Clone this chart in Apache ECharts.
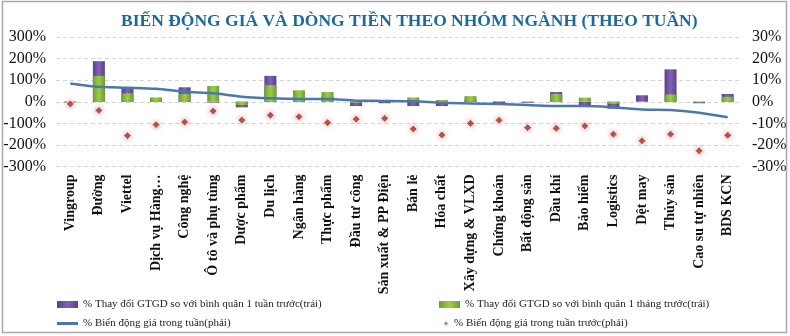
<!DOCTYPE html>
<html>
<head>
<meta charset="utf-8">
<script src="https://cdn.jsdelivr.net/npm/echarts@6/dist/echarts.min.js"></script>
<style>
  html, body { margin: 0; padding: 0; background: #fff; }
  #chart { width: 790px; height: 336px; }
</style>
</head>
<body>
<div id="chart"></div>
<script>
// Sector groups (weekly view)
var categories = ['Vingroup', 'Đường', 'Viettel', 'Dịch vụ Hàng…', 'Công nghệ', 'Ô tô và phụ tùng',
  'Dược phẩm', 'Du lịch', 'Ngân hàng', 'Thực phẩm', 'Đầu tư công', 'Sản xuất & PP Điện',
  'Bán lẻ', 'Hóa chất', 'Xây dựng & VLXD', 'Chứng khoán', 'Bất động sản', 'Dầu khí',
  'Bảo hiểm', 'Logistics', 'Dệt may', 'Thủy sản', 'Cao su tự nhiên', 'BDS KCN'];

// % change in trading value vs previous 1-week average (left axis)
var tradeVsWeek = [-3, 188, 67, 10, 67, -4, -26, 120, 30, 25, -20, -7,
  -20, -20, 10, -7, -5, 45, -15, -32, 30, 150, -7, 36];

// % change in trading value vs previous 1-month average (left axis)
var tradeVsMonth = [-2, 120, 39, 20, 36, 73, -15, 77, 53, 45, -5, 2,
  20, 8, 26, 3, -2, 36, 19, -10, 3, 34, -3, 23];

// % price change this week (right axis)
var priceWeek = [8.5, 6.9, 6.5, 6.0, 4.6, 3.9, 2.3, 1.6, 1.3, 1.3, 0.5, 0.4,
  0.2, -0.5, -0.8, -1.1, -1.5, -2.0, -2.0, -2.6, -3.6, -3.8, -5.1, -7.2];

// % price change previous week (right axis)
var pricePrevWeek = [-1, -4, -15.7, -10.6, -9.4, -4.3, -8.5, -6.2, -6.9, -9.7, -8.1, -7.7,
  -12.6, -15.4, -10, -8.6, -12, -12.3, -11.2, -15, -18.1, -15, -22.7, -15.5];

var leftTicks = { min: -300, max: 300, interval: 100 };
var rightTicks = { min: -30, max: 30, interval: 10 };

var names = [
  '% Thay đổi GTGD so với bình quân 1 tuần trước(trái)',
  '% Thay đổi GTGD so với bình quân 1 tháng trước(trái)',
  '% Biến động giá trong tuần(phải)',
  '% Biến động giá trong tuần trước(phải)'
];

var serif = '"Liberation Serif", "Times New Roman", serif';

function hGrad(edge, mid) {
  return new echarts.graphic.LinearGradient(0, 0, 1, 0, [
    { offset: 0, color: edge }, { offset: 0.5, color: mid }, { offset: 1, color: edge }
  ]);
}

var legendText = { fontFamily: serif, fontSize: 11, color: '#222' };

var chart = echarts.init(document.getElementById('chart'), null, { renderer: 'canvas' });
chart.setOption({
  animation: false,
  backgroundColor: '#fff',
  title: {
    text: 'BIẾN ĐỘNG GIÁ VÀ DÒNG TIỀN THEO NHÓM NGÀNH (THEO TUẦN)',
    left: 116, top: 7,
    textStyle: { fontFamily: serif, fontSize: 17.5, fontWeight: 'bold', color: '#1c6a9c' }
  },
  graphic: [{
    type: 'rect', silent: true, z: 100,
    shape: { x: 2.5, y: 1.5, width: 784, height: 331 },
    style: { fill: 'none', stroke: '#a8a8a8', lineWidth: 1.5 }
  }],
  legend: [
    { left: 52, top: 294, itemWidth: 21, itemHeight: 7, itemGap: 4, textStyle: legendText,
      data: [{ name: names[0], icon: 'rect' }] },
    { left: 434, top: 294, itemWidth: 21, itemHeight: 7, itemGap: 4, textStyle: legendText,
      data: [{ name: names[1], icon: 'rect' }] },
    { left: 52, top: 313, itemWidth: 21, itemHeight: 3, itemGap: 4, textStyle: legendText,
      data: [{ name: names[2], icon: 'rect' }] },
    { left: 437, top: 313, itemWidth: 6, itemHeight: 6, itemGap: 10, textStyle: legendText,
      data: [{ name: names[3], icon: 'diamond' }] }
  ],
  grid: { left: 56, right: 48, top: 37, bottom: 169.5, containLabel: false },
  xAxis: {
    type: 'category',
    data: categories,
    axisLine: { show: false, onZero: false },
    axisTick: { show: false },
    splitLine: { show: false },
    axisLabel: {
      interval: 0, rotate: 90, margin: 8,
      fontFamily: serif, fontSize: 14, fontWeight: 'bold', color: '#111'
    }
  },
  yAxis: [{
    type: 'value',
    min: leftTicks.min, max: leftTicks.max, interval: leftTicks.interval,
    axisLine: { show: false }, axisTick: { show: false },
    splitLine: { lineStyle: { color: '#d4d4d4', type: [4, 3], width: 1 } },
    axisLabel: { formatter: '{value}%', fontFamily: serif, fontSize: 16, color: '#111', margin: 10 }
  }, {
    type: 'value',
    min: rightTicks.min, max: rightTicks.max, interval: rightTicks.interval,
    axisLine: { show: false }, axisTick: { show: false },
    splitLine: { show: false },
    axisLabel: { formatter: '{value}%', fontFamily: serif, fontSize: 16, color: '#111', margin: 10 }
  }],
  series: [{
    name: names[0],
    type: 'bar',
    yAxisIndex: 0,
    data: tradeVsWeek,
    barWidth: 12,
    barGap: '-100%',
    itemStyle: { color: hGrad('#5e3f8e', '#8262b4') },
    z: 2
  }, {
    name: names[1],
    type: 'bar',
    yAxisIndex: 0,
    data: tradeVsMonth,
    barWidth: 12,
    barGap: '-100%',
    itemStyle: { color: hGrad('#6f9e2e', '#9ccc4e') },
    z: 3
  }, {
    name: names[2],
    type: 'line',
    yAxisIndex: 1,
    data: priceWeek,
    smooth: 0.3,
    showSymbol: false,
    symbol: 'none',
    lineStyle: { color: '#4a78ae', width: 2.5 },
    itemStyle: { color: '#4a78ae' },
    z: 5
  }, {
    name: names[3],
    type: 'scatter',
    yAxisIndex: 1,
    data: pricePrevWeek,
    symbol: 'diamond',
    symbolSize: 8,
    itemStyle: {
      color: '#a5302c',
      borderColor: '#fff', borderWidth: 1,
      shadowBlur: 5, shadowColor: 'rgba(190,90,90,0.55)'
    },
    z: 6
  }]
});
</script>
</body>
</html>
